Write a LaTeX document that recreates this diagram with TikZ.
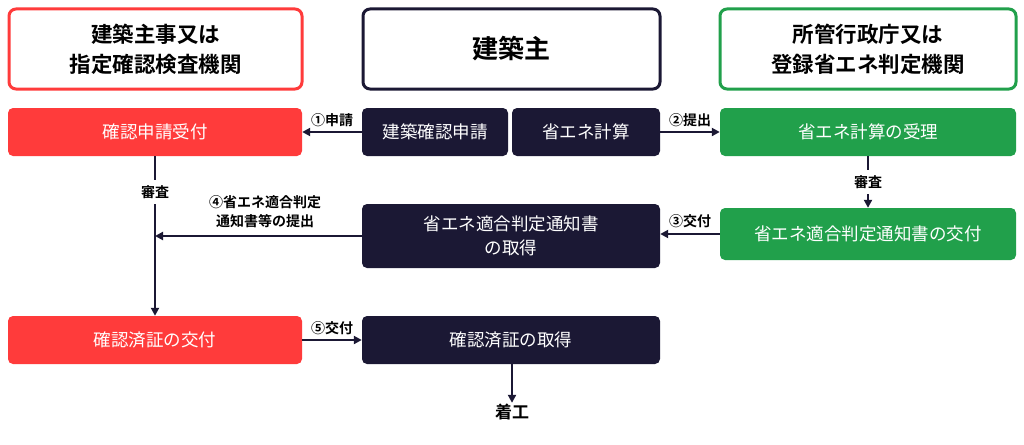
\documentclass[tikz,border=0pt]{standalone}
\usepackage{fontspec}
\setmainfont{Noto Sans CJK JP}
\newfontfamily\jpb{Noto Sans CJK JP Bold}
\usetikzlibrary{arrows.meta}
\definecolor{cred}{HTML}{FF3B3B}
\definecolor{cnavy}{HTML}{1B1834}
\definecolor{cgreen}{HTML}{21A04B}
\begin{document}
\begin{tikzpicture}[x=1pt,y=-1pt,
  fbox/.style={fill=#1,rounded corners=5pt,text=white,font=\fontsize{17.5}{24}\selectfont,align=center,inner sep=0},
  arr/.style={line width=2.2pt,draw=cnavy,-{Triangle[length=8pt,width=8pt]}},
  lbl/.style={font=\jpb\fontsize{14}{19}\selectfont,inner sep=1pt,align=center},
  wlbl/.style={lbl,fill=white,inner sep=5pt},
  hb/.style={draw=#1,line width=3pt,rounded corners=7pt}]
\useasboundingbox (0,0) rectangle (1024,444);
% headers
\path[hb=cred] (9,9) rectangle (302,89);
\node[lbl,font=\jpb\fontsize{21.5}{30}\selectfont] (h1) at (155.5,49) {建築主事又は\\指定確認検査機関};
\path[hb=cnavy] (363,9) rectangle (660,89);
\node[lbl,font=\jpb\fontsize{26}{30}\selectfont] (h2) at (511.5,49) {建築主};
\path[hb=cgreen] (720,9) rectangle (1016,89);
\node[lbl,font=\jpb\fontsize{21.5}{30}\selectfont] (h3) at (868,49) {所管行政庁又は\\登録省エネ判定機関};
% row 1
\node[fbox=cred,minimum width=294,minimum height=48] (r1) at (155,132) {確認申請受付};
\node[fbox=cnavy,minimum width=146,minimum height=48] (n1a) at (435,132) {建築確認申請};
\node[fbox=cnavy,minimum width=148,minimum height=48] (n1b) at (586,132) {省エネ計算};
\node[fbox=cgreen,minimum width=296,minimum height=48] (g1) at (868,132) {省エネ計算の受理};
% row 2
\node[fbox=cgreen,minimum width=296,minimum height=52] (g2) at (868,234) {省エネ適合判定通知書の交付};
\node[fbox=cnavy,minimum width=298,minimum height=64] (n2) at (511,236) {省エネ適合判定通知書\\の取得};
% row 3
\node[fbox=cred,minimum width=294,minimum height=48] (r3) at (155,340) {確認済証の交付};
\node[fbox=cnavy,minimum width=298,minimum height=48] (n3) at (511,340) {確認済証の取得};
\node[lbl,font=\jpb\fontsize{17}{20}\selectfont] (start) at (512,412) {着工};
\coordinate (j) at (155,236);
% arrows
\draw[arr] (n1a.west) -- (r1.east) node[lbl,midway,above=3pt] {①申請};
\draw[arr] (n1b.east) -- (g1.west) node[lbl,midway,above=3pt] {②提出};
\draw[arr] (g1.south) -- (g2.north) node[wlbl,midway] {審査};
\draw[arr] (g2.west) -- (n2.east |- g2.west) node[lbl,midway,above=4pt] {③交付};
\draw[arr] (n2.west) -- (j);
\node[lbl,anchor=south] at (265,229) {④省エネ適合判定\\通知書等の提出};
\draw[arr] (r1.south) -- (r3.north);
\node[wlbl,inner xsep=14pt] at (155,192) {審査};
\draw[arr] (r3.east) -- (n3.west) node[lbl,midway,above=3pt] {⑤交付};
\draw[arr] (n3.south -| start) -- (start.north);
\end{tikzpicture}
\end{document}
